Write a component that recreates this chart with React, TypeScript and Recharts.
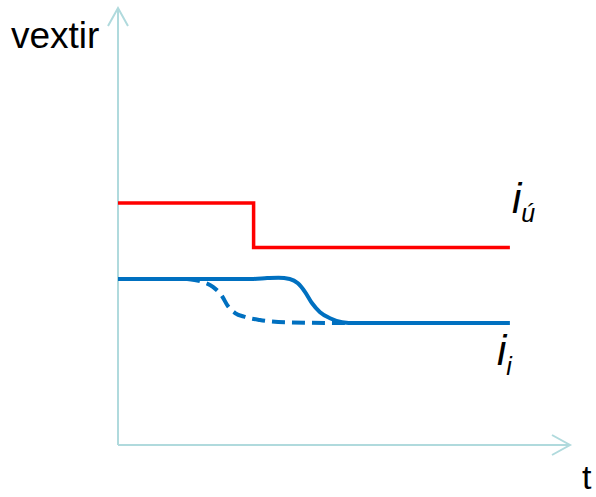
import { LineChart, Line, XAxis, YAxis, ReferenceLine, ReferenceDot } from "recharts";

// upper rate: drops in one step at t = 3
const upperRate = [
  { t: 0, v: 5.54 },
  { t: 3, v: 4.52 },
  { t: 8.67, v: 4.52 },
];

// lower rate, slow response (solid)
const lowerRateSlow = [
  { t: 0, v: 3.8 },
  { t: 2.99, v: 3.8 },
  { t: 3.3, v: 3.82 },
  { t: 3.55, v: 3.83 },
  { t: 3.8, v: 3.8 },
  { t: 3.98, v: 3.7 },
  { t: 4.14, v: 3.5 },
  { t: 4.29, v: 3.25 },
  { t: 4.47, v: 3.04 },
  { t: 4.69, v: 2.9 },
  { t: 4.96, v: 2.81 },
  { t: 5.24, v: 2.79 },
  { t: 8.67, v: 2.79 },
];

// lower rate, fast response (dashed)
const lowerRateFast = [
  { t: 1.53, v: 3.8 },
  { t: 1.81, v: 3.75 },
  { t: 2.1, v: 3.62 },
  { t: 2.3, v: 3.41 },
  { t: 2.43, v: 3.18 },
  { t: 2.59, v: 3.02 },
  { t: 2.81, v: 2.93 },
  { t: 3.14, v: 2.86 },
  { t: 3.69, v: 2.81 },
  { t: 5.02, v: 2.79 },
];

const AXIS = "#b0dadd";
const FONT = "'Liberation Sans', Arial, sans-serif";

type DotProps = { cx?: number; cy?: number };

const ArrowRight = ({ cx = 0, cy = 0 }: DotProps) => (
  <path
    d={`M${cx - 18},${cy - 10} L${cx},${cy} L${cx - 18},${cy + 10}`}
    fill="none"
    stroke={AXIS}
    strokeWidth={2}
  />
);

const ArrowUp = ({ cx = 0, cy = 0 }: DotProps) => (
  <path
    d={`M${cx - 10},${cy + 18} L${cx},${cy} L${cx + 10},${cy + 18}`}
    fill="none"
    stroke={AXIS}
    strokeWidth={2}
  />
);

export default function App() {
  return (
    <div style={{ position: "absolute", left: 0, top: 0, width: 596, height: 497 }}>
      <LineChart
        width={596}
        height={497}
        margin={{ top: 8, right: 26, bottom: 52, left: 118 }}
      >
        <XAxis type="number" dataKey="t" domain={[0, 10]} hide />
        <YAxis type="number" domain={[0, 10]} hide />
        <ReferenceLine x={0} stroke={AXIS} strokeWidth={2} />
        <ReferenceLine y={0} stroke={AXIS} strokeWidth={2} />
        <ReferenceDot x={10} y={0} ifOverflow="visible" shape={ArrowRight} />
        <ReferenceDot x={0} y={10} ifOverflow="visible" shape={ArrowUp} />
        <Line
          data={upperRate}
          dataKey="v"
          type="stepAfter"
          stroke="#ff0000"
          strokeWidth={3.5}
          dot={false}
          isAnimationActive={false}
        />
        <Line
          data={lowerRateFast}
          dataKey="v"
          type="monotone"
          stroke="#0070c0"
          strokeWidth={4}
          strokeDasharray="13 7"
          dot={false}
          isAnimationActive={false}
        />
        <Line
          data={lowerRateSlow}
          dataKey="v"
          type="monotone"
          stroke="#0070c0"
          strokeWidth={4}
          dot={false}
          isAnimationActive={false}
        />
      </LineChart>
      <svg
        width={596}
        height={497}
        style={{ position: "absolute", left: 0, top: 0, pointerEvents: "none" }}
        fontFamily={FONT}
      >
        <text x={11} y={48} fontSize={37} fill="#000">vextir</text>
        <text x={582} y={489} fontSize={34} fill="#000">t</text>
        <text x={512} y={213} fontSize={42} fontStyle="italic" fill="#000">
          i<tspan fontSize={25} dy={9}>ú</tspan>
        </text>
        <text x={497} y={365} fontSize={42} fontStyle="italic" fill="#000">
          i<tspan fontSize={25} dy={10}>i</tspan>
        </text>
      </svg>
    </div>
  );
}
